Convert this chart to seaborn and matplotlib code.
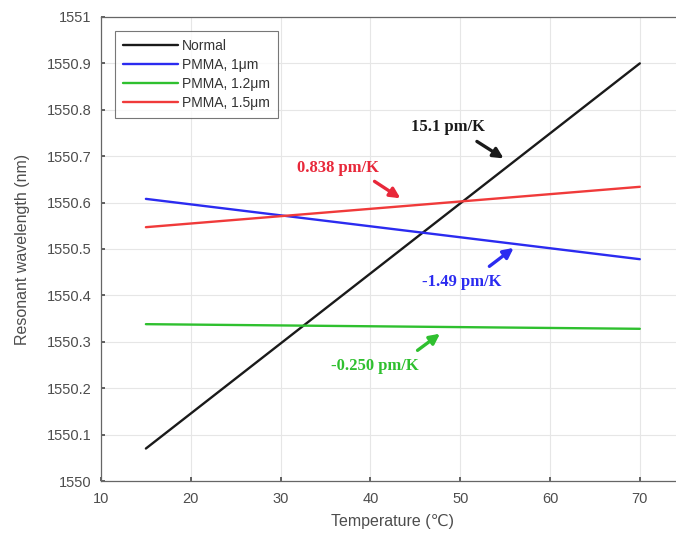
import matplotlib
matplotlib.use("Agg")
import matplotlib.pyplot as plt
import seaborn as sns
import pandas as pd

# Data
temperature = [15, 70]
normal = [1550.07, 1550.90]
pmma_1um = [1550.608, 1550.478]
pmma_12um = [1550.338, 1550.328]
pmma_15um = [1550.547, 1550.634]
series_names = ["Normal", "PMMA, 1μm", "PMMA, 1.2μm", "PMMA, 1.5μm"]
series_values = [normal, pmma_1um, pmma_12um, pmma_15um]
colors = ["#1a1a1a", "#2b2bf0", "#2fc02f", "#f03a3a"]
x_ticks = [10, 20, 30, 40, 50, 60, 70]
y_ticks = [1550 + 0.1 * i for i in range(11)]

rows = []
for name, vals in zip(series_names, series_values):
    for t, v in zip(temperature, vals):
        rows.append({"Temperature": t, "Wavelength": v, "Series": name})
df = pd.DataFrame(rows)

sns.set_theme(style="whitegrid")
plt.rcParams["font.family"] = ["Liberation Sans", "DejaVu Sans"]

fig = plt.figure(figsize=(6.76, 5.39), dpi=100)
ax = fig.add_axes([0.1494, 0.1076, 0.8635, 0.8609])

sns.lineplot(data=df, x="Temperature", y="Wavelength", hue="Series",
             hue_order=series_names, palette=colors, linewidth=1.7, ax=ax)

ax.set_xlim(10, 75)
ax.set_ylim(1550, 1551)
ax.set_xticks(x_ticks)
ax.set_yticks(y_ticks)
ax.set_yticklabels(["1550"] + [f"{v:.1f}" for v in y_ticks[1:-1]] + ["1551"])
ax.grid(True, color="#e6e6e6", linewidth=0.8)
for s in ax.spines.values():
    s.set_color("#666666")
    s.set_linewidth(0.9)
ax.tick_params(axis="both", direction="in", length=3, colors="#4d4d4d",
               labelsize=10.5, labelcolor="#4d4d4d", bottom=True, left=True)
ax.tick_params(axis="y", pad=7)
ax.tick_params(axis="x", pad=8)
ax.set_xlabel("Temperature (℃)", fontsize=11.5, color="#4d4d4d", labelpad=6)
ax.set_ylabel("Resonant wavelength (nm)", fontsize=11.5, color="#4d4d4d", labelpad=12)

leg = ax.legend(loc="upper left", fontsize=10, frameon=True, fancybox=False,
                handlelength=4.0, borderaxespad=1.0, labelspacing=0.38,
                borderpad=0.55, handletextpad=0.3)
leg.get_frame().set_edgecolor("#555555")
leg.get_frame().set_linewidth(0.8)
for t in leg.get_texts():
    t.set_color("#333333")

ann_font = dict(fontsize=12, fontweight="bold", family=["Liberation Serif", "DejaVu Serif"])
ann = [
    ("15.1 pm/K", (48.6, 1550.763), (51.6, 1550.735), (55.1, 1550.692), "#1a1a1a"),
    ("0.838 pm/K", (36.4, 1550.675), (40.2, 1550.649), (43.6, 1550.606), "#e8283a"),
    ("-1.49 pm/K", (50.2, 1550.429), (53.0, 1550.459), (56.2, 1550.506), "#2b2bf0"),
    ("-0.250 pm/K", (40.5, 1550.248), (45.0, 1550.278), (48.0, 1550.321), "#2fc02f"),
]
for text, tpos, tail, head, c in ann:
    ax.text(tpos[0], tpos[1], text, color=c, ha="center", va="center", **ann_font)
    ax.annotate("", xy=head, xytext=tail,
                arrowprops=dict(arrowstyle="-|>", color=c, lw=2.4,
                                mutation_scale=15))

fig.savefig("out.png", dpi=100)
